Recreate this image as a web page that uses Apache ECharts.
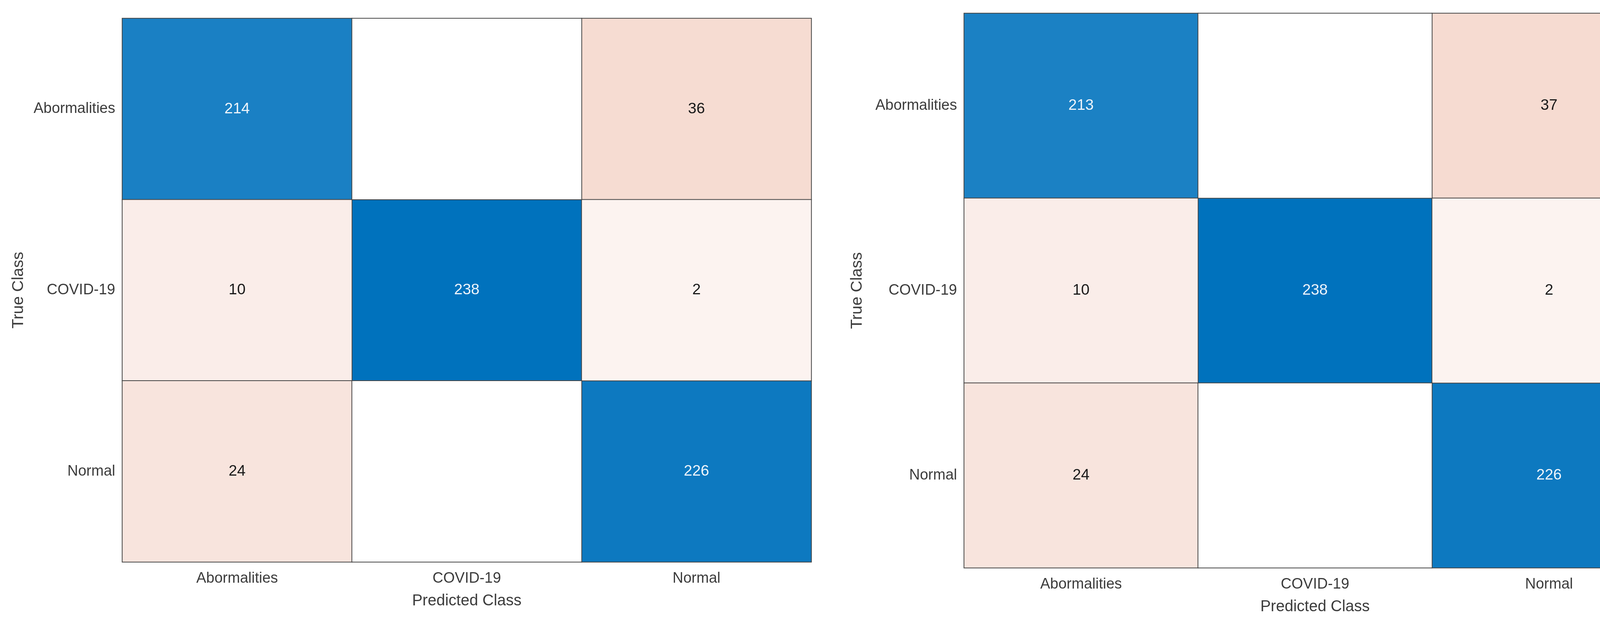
<!DOCTYPE html>
<html>
<head>
<meta charset="utf-8">
<script src="https://cdn.jsdelivr.net/npm/echarts@6/dist/echarts.min.js"></script>
<style>html,body{margin:0;padding:0;background:#fff;overflow:hidden;}#c{width:4301px;height:1612px;}</style>
</head>
<body>
<div id="c"></div>
<script>
const classes = ['Abormalities', 'COVID-19', 'Normal'];
// rows = true class, columns = predicted class
const matrixLeft = [
  [214, 0, 36],
  [10, 238, 2],
  [24, 0, 226]
];
const matrixRight = [
  [213, 0, 37],
  [10, 238, 2],
  [24, 0, 226]
];
const xAxisTitle = 'Predicted Class';
const yAxisTitle = 'True Class';

const FONT = '"Liberation Sans", Arial, Helvetica, sans-serif';

// kind: 'diag' | 'off' | 'zero'
function cells(m, kind) {
  const out = [];
  for (let r = 0; r < m.length; r++) {
    for (let c = 0; c < m[r].length; c++) {
      const v = m[r][c];
      let k;
      if (v === 0) k = 'zero';
      else if (r === c) k = 'diag';
      else k = 'off';
      if (k === kind) out.push([c, r, v]);
    }
  }
  return out;
}

const grids = [
  {left: 313, top: 47, width: 1764, height: 1391},
  {left: 2468, top: 34, width: 1797, height: 1419}
];
const yGaps = [245, 253];

const xAxes = grids.map((g, i) => ({
  type: 'category', gridIndex: i, data: classes,
  axisLine: {show: false}, axisTick: {show: false}, splitLine: {show: false},
  axisLabel: {fontSize: 38, color: '#3c3c3c', fontFamily: FONT, margin: 24},
  name: xAxisTitle, nameLocation: 'middle', nameGap: 80,
  nameTextStyle: {fontSize: 40, color: '#3c3c3c', fontFamily: FONT}
}));
const yAxes = grids.map((g, i) => ({
  type: 'category', gridIndex: i, data: classes, inverse: true,
  axisLine: {show: false}, axisTick: {show: false}, splitLine: {show: false},
  axisLabel: {fontSize: 38, color: '#3c3c3c', fontFamily: FONT, margin: 18},
  name: yAxisTitle, nameLocation: 'middle', nameGap: yGaps[i], nameRotate: 90,
  nameTextStyle: {fontSize: 41, color: '#3c3c3c', fontFamily: FONT}
}));

function series(m, idx, kind) {
  const s = {
    type: 'heatmap', xAxisIndex: idx, yAxisIndex: idx,
    data: cells(m, kind),
    itemStyle: {borderColor: '#444', borderWidth: 2},
    label: {
      show: kind !== 'zero', fontSize: 39, fontFamily: FONT,
      color: kind === 'diag' ? '#eef4fa' : '#1a1a1a'
    },
    emphasis: {disabled: true}
  };
  if (kind === 'zero') s.itemStyle.color = '#ffffff';
  return s;
}

const option = {
  backgroundColor: '#ffffff',
  animation: false,
  grid: grids,
  xAxis: xAxes,
  yAxis: yAxes,
  visualMap: [
    {
      show: false, type: 'continuous', seriesIndex: [0, 3], dimension: 2,
      min: 0, max: 238,
      inRange: {color: ['#ffffff', '#0072BD']}
    },
    {
      show: false, type: 'continuous', seriesIndex: [1, 4], dimension: 2,
      min: 0, max: 37,
      inRange: {color: ['#FCF4F2', '#F6DBD1']}
    }
  ],
  series: [
    series(matrixLeft, 0, 'diag'),
    series(matrixLeft, 0, 'off'),
    series(matrixLeft, 0, 'zero'),
    series(matrixRight, 1, 'diag'),
    series(matrixRight, 1, 'off'),
    series(matrixRight, 1, 'zero')
  ]
};

const chart = echarts.init(document.getElementById('c'), null, {renderer: 'canvas'});
chart.setOption(option);
</script>
</body>
</html>
